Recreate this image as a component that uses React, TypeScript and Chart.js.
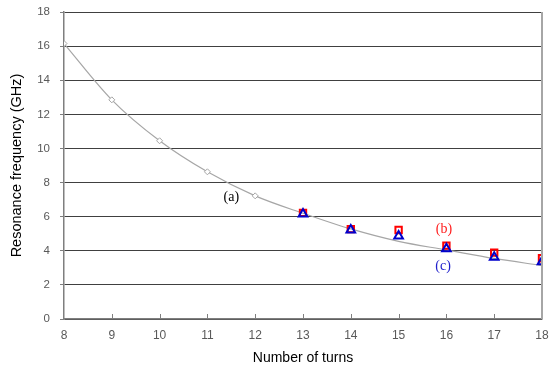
import React, { useEffect, useRef } from "react";
import { Chart, registerables } from "chart.js";

Chart.register(...registerables);

const turns = [8, 9, 10, 11, 12, 13, 14, 15, 16, 17, 18];
const curveA = [16.15, 12.85, 10.45, 8.63, 7.22, 6.2, 5.28, 4.55, 4.05, 3.55, 3.13];
const markerTurnsA = [8, 9, 10, 11, 12];
const turnsBC = [13, 14, 15, 16, 17, 18];
const seriesB = [6.22, 5.27, 5.22, 4.3, 3.89, 3.56];
const seriesC = [6.15, 5.22, 4.87, 4.12, 3.62, 3.36];
const yTicks = [0, 2, 4, 6, 8, 10, 12, 14, 16, 18];
const labels = [
  { text: "(a)", x: 11.5, y: 7.15, color: "#000000" },
  { text: "(b)", x: 15.95, y: 5.28, color: "#ff2020" },
  { text: "(c)", x: 15.93, y: 3.1, color: "#2020cc" },
];

const extrasPlugin = {
  id: "extras",
  afterDatasetsDraw(chart: any) {
    const { ctx, chartArea, scales } = chart;
    const xs = scales.x;
    const ys = scales.y;
    ctx.save();
    ctx.strokeStyle = "#7f7f7f";
    ctx.lineWidth = 1;
    for (let t = 9; t <= 17; t++) {
      const px = Math.round(xs.getPixelForValue(t)) + 0.5;
      ctx.beginPath();
      ctx.moveTo(px, chartArea.bottom);
      ctx.lineTo(px, chartArea.bottom - 5);
      ctx.stroke();
    }
    ctx.strokeStyle = "#a6a6a6";
    ctx.lineWidth = 2;
    ctx.beginPath();
    ctx.moveTo(chartArea.right, chartArea.top);
    ctx.lineTo(chartArea.right, chartArea.bottom);
    ctx.stroke();
    ctx.font = "14px 'Liberation Serif', 'DejaVu Serif', serif";
    ctx.textAlign = "center";
    ctx.textBaseline = "middle";
    for (const l of labels) {
      ctx.fillStyle = l.color;
      ctx.fillText(l.text, xs.getPixelForValue(l.x), ys.getPixelForValue(l.y));
    }
    ctx.restore();
  },
};

export default function App() {
  const ref = useRef<HTMLCanvasElement | null>(null);
  useEffect(() => {
    document.body.style.margin = "0";
    const ctx = ref.current!;
    const chart = new Chart(ctx, {
      type: "scatter",
      data: {
        datasets: [
          {
            label: "(a)",
            type: "line",
            data: turns.map((t, i) => ({ x: t, y: curveA[i] })),
            borderColor: "#a6a6a6",
            borderWidth: 1.2,
            cubicInterpolationMode: "monotone",
            pointStyle: "rectRot",
            pointRadius: turns.map((t) => (markerTurnsA.includes(t) ? 3 : 0)),
            pointBackgroundColor: "#ffffff",
            pointBorderColor: "#a6a6a6",
            pointBorderWidth: 1,
            showLine: true,
            fill: false,
            order: 3,
          } as any,
          {
            label: "(b)",
            data: turnsBC.map((t, i) => ({ x: t, y: seriesB[i] })),
            pointStyle: "rect",
            pointRadius: 4.5,
            pointBackgroundColor: "rgba(255,255,255,0)",
            pointBorderColor: "#ff0000",
            pointBorderWidth: 2,
            order: 2,
          },
          {
            label: "(c)",
            data: turnsBC.map((t, i) => ({ x: t, y: seriesC[i] })),
            pointStyle: "triangle",
            pointRadius: 5,
            pointBackgroundColor: "rgba(255,255,255,0)",
            pointBorderColor: "#0000cc",
            pointBorderWidth: 2,
            order: 1,
          },
        ],
      },
      options: {
        responsive: false,
        animation: false,
        layout: { padding: { top: 12, right: 5, left: 0, bottom: 0 } },
        plugins: {
          legend: { display: false },
          tooltip: { enabled: false },
        },
        scales: {
          x: {
            type: "linear",
            min: 8,
            max: 18,
            ticks: {
              stepSize: 1,
              color: "#595959",
              font: { family: "'Liberation Sans', Arial, sans-serif", size: 12 },
              padding: 9,
            },
            grid: { drawOnChartArea: false, drawTicks: false },
            border: { color: "#7f7f7f", width: 1.5 },
            title: {
              display: true,
              text: "Number of turns",
              color: "#000000",
              font: { family: "'Liberation Sans', Arial, sans-serif", size: 14 },
              padding: { top: 4 },
            },
            afterFit(scale: any) {
              scale.height = 52;
              scale.paddingLeft = 0;
              scale.paddingRight = 0;
            },
          },
          y: {
            min: 0,
            max: 18,
            afterBuildTicks(scale: any) {
              scale.ticks = yTicks.map((v) => ({ value: v }));
            },
            ticks: {
              color: "#595959",
              font: { family: "'Liberation Sans', Arial, sans-serif", size: 11.5 },
              padding: 10,
            },
            grid: {
              color: "#404040",
              lineWidth: 1,
              tickLength: 4,
              tickColor: "#7f7f7f",
            },
            border: { color: "#7f7f7f", width: 1.5 },
            title: {
              display: true,
              text: "Resonance frequency (GHz)",
              color: "#000000",
              font: { family: "'Liberation Sans', Arial, sans-serif", size: 14.5 },
              padding: { top: 8, bottom: 2 },
            },
            afterFit(scale: any) {
              scale.width = 64;
              scale.paddingTop = 0;
              scale.paddingBottom = 0;
            },
          },
        },
      },
      plugins: [extrasPlugin],
    } as any);
    return () => chart.destroy();
  }, []);
  return (
    <div style={{ position: "absolute", left: 0, top: 0 }}>
      <canvas ref={ref} width={549} height={371} style={{ display: "block" }} />
    </div>
  );
}
